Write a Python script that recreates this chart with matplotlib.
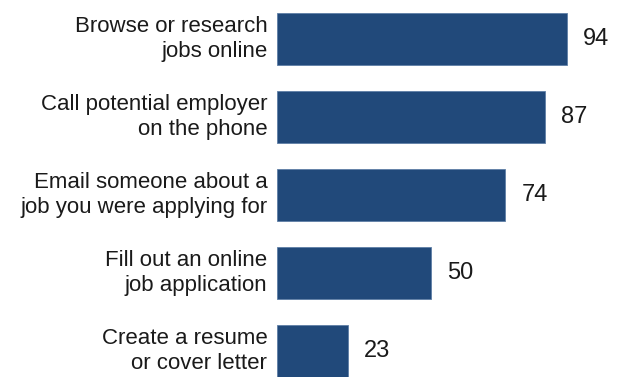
import matplotlib
matplotlib.use("Agg")
from matplotlib import pyplot as plt

# Share of respondents doing each job-search activity
activities = [
    "Browse or research\njobs online",
    "Call potential employer\non the phone",
    "Email someone about a\njob you were applying for",
    "Fill out an online\njob application",
    "Create a resume\nor cover letter",
]
values = [94, 87, 74, 50, 23]

bar_color = "#21497a"
text_color = "#1a1a1a"
plt.rcParams["font.family"] = ["Liberation Sans", "DejaVu Sans"]

W, H, DPI = 619, 377, 100
fig = plt.figure(figsize=(W / DPI, H / DPI), dpi=DPI)

# Axes placed in pixel terms: bars start at x=277, 94 ends at x=567
x0 = 277
px_per_unit = (567 - 277) / 94
ax_w = 100 * px_per_unit
ax = fig.add_axes([x0 / W, 0, ax_w / W, 1])

pos = list(range(len(values)))
ax.barh(pos, values, height=0.675, color=bar_color,
        edgecolor="#5f7fa6", linewidth=0.6)

ax.set_xlim(0, 100)
# bar centres at 39 px with 78 px spacing, axes spans full height
ax.set_ylim((H - 39) / 78, -0.5)

for p, v, name in zip(pos, values, activities):
    ax.annotate(str(v), (v, p), xytext=(11.5, 0), textcoords="offset points",
                ha="left", va="center", fontsize=17, color=text_color)
    ax.annotate(name, (0, p), xytext=(-7, 0), textcoords="offset points",
                ha="right", va="center", fontsize=16, color=text_color,
                linespacing=1.2, annotation_clip=False)

ax.axis("off")
fig.savefig("out.png", dpi=DPI)
